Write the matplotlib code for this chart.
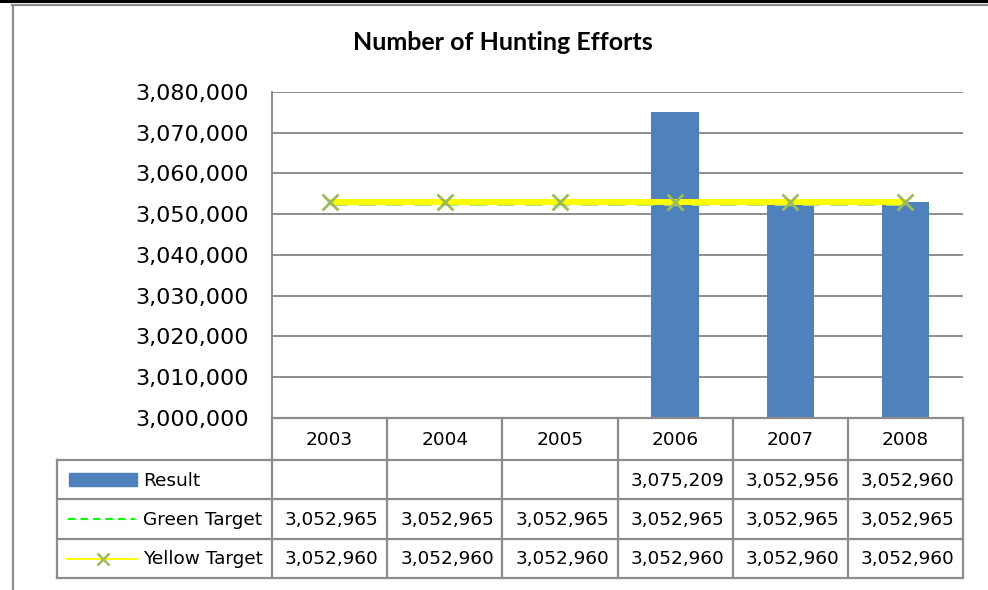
import numpy as np
import matplotlib.pyplot as plt
from matplotlib.lines import Line2D
from matplotlib.patches import Rectangle
from matplotlib.transforms import blended_transform_factory

# data
years = ['2003', '2004', '2005', '2006', '2007', '2008']
result = [None, None, None, 3075209, 3052956, 3052960]
green_target = [3052965, 3052965, 3052965, 3052965, 3052965, 3052965]
yellow_target = [3052960, 3052960, 3052960, 3052960, 3052960, 3052960]
y_ticks = np.arange(3000000, 3080001, 10000)

W, H = 988, 590
fig = plt.figure(figsize=(W / 100, H / 100), dpi=100)

# plot area in pixels
left, right, top, bottom = 272, 963, 92, 418
ax = fig.add_axes([left / W, 1 - bottom / H, (right - left) / W, (bottom - top) / H])

def fy(py):
    return 1 - py / H

def fx(px):
    return px / W

grid_col = '#868686'
line_col = '#8c8c8c'
x = np.arange(len(years))

# bars (only years that have a result)
bx = [i for i, v in enumerate(result) if v is not None]
bv = [result[i] for i in bx]
ax.bar(bx, bv, width=0.41, color='#4f81bd', zorder=2)

ax.plot(x, green_target, color='#a6e86a', lw=5.0, ls=(0, (2.5, 1.5)), zorder=3)
ax.plot(x, yellow_target, color='#ffff00', lw=4.3, zorder=4,
        marker='x', markersize=11, mew=2, mec='#9bbb59')

ax.set_xlim(-0.5, len(years) - 0.5)
ax.set_ylim(3000000, 3080000)
ax.set_yticks(y_ticks)
ax.set_yticklabels([f'{v:,}' for v in y_ticks], fontsize=16)
ax.tick_params(axis='y', length=0, pad=17)
ax.set_xticks([])
ax.grid(axis='y', color=grid_col, lw=1.3, zorder=1)
ax.set_axisbelow(True)
for s in ['top', 'right', 'bottom']:
    ax.spines[s].set_visible(False)
ax.spines['left'].set_color(grid_col)
ax.spines['left'].set_linewidth(1.3)

fig.text(fx(503), fy(43), 'Number of Hunting Efforts',
         ha='center', va='center', fontsize=18, fontweight='bold', family='Lato')

# data table under the plot
tr = blended_transform_factory(ax.transData, fig.transFigure)
rows = [418, 460, 499, 539, 578]
leg_left = 57
lw_t = 1.6

# horizontal lines
for i, py in enumerate(rows):
    x0 = fx(left) if i == 0 else fx(leg_left)
    fig.add_artist(Line2D([x0, fx(right)], [fy(py), fy(py)], color=line_col, lw=lw_t))
# vertical lines
for k in range(len(years) + 1):
    fig.add_artist(Line2D([k - 0.5, k - 0.5], [fy(rows[0]), fy(rows[-1])],
                          color=line_col, lw=lw_t, transform=tr))
fig.add_artist(Line2D([fx(leg_left), fx(leg_left)], [fy(rows[1]), fy(rows[-1])],
                      color=line_col, lw=lw_t))

def mid(i):
    return fy((rows[i] + rows[i + 1]) / 2 + 1)

fs = 13.3
for i, yr in enumerate(years):
    fig.text(i, mid(0), yr, transform=tr, ha='center', va='center', fontsize=fs)

series = [result, green_target, yellow_target]
for r, vals in enumerate(series):
    for i, v in enumerate(vals):
        if v is not None:
            fig.text(i + 0.02, mid(r + 1), f'{v:,}', transform=tr,
                     ha='center', va='center', fontsize=fs)

# legend keys in the first column
labels = ['Result', 'Green Target', 'Yellow Target']
for r, lab in enumerate(labels):
    fig.text(fx(143), mid(r + 1), lab, ha='left', va='center', fontsize=fs)

ym = (rows[1] + rows[2]) / 2
fig.add_artist(Rectangle((fx(69), fy(ym + 6.5)), fx(137) - fx(69), 13 / H,
                         color='#4f81bd', transform=fig.transFigure))
ym = (rows[2] + rows[3]) / 2
fig.add_artist(Line2D([fx(68), fx(135)], [fy(ym), fy(ym)], color='#00ff00',
                      lw=1.5, ls=(0, (3.5, 2.5))))
ym = (rows[3] + rows[4]) / 2
fig.add_artist(Line2D([fx(67), fx(137)], [fy(ym), fy(ym)], color='#ffff00', lw=1.5))
fig.add_artist(Line2D([fx(103)], [fy(ym)], marker='x', markersize=9, mew=1.8,
                      mec='#9bbb59', ls='none'))

# outer frame
fig.add_artist(Line2D([0, 1], [fy(1), fy(1)], color='black', lw=2.2))
fig.add_artist(Line2D([fx(12), 1], [fy(5), fy(5)], color='#8c8c8c', lw=1.6))
fig.add_artist(Line2D([fx(13), fx(13)], [fy(5), 0], color='#8c8c8c', lw=1.6))

fig.savefig('out.png', dpi=100)
